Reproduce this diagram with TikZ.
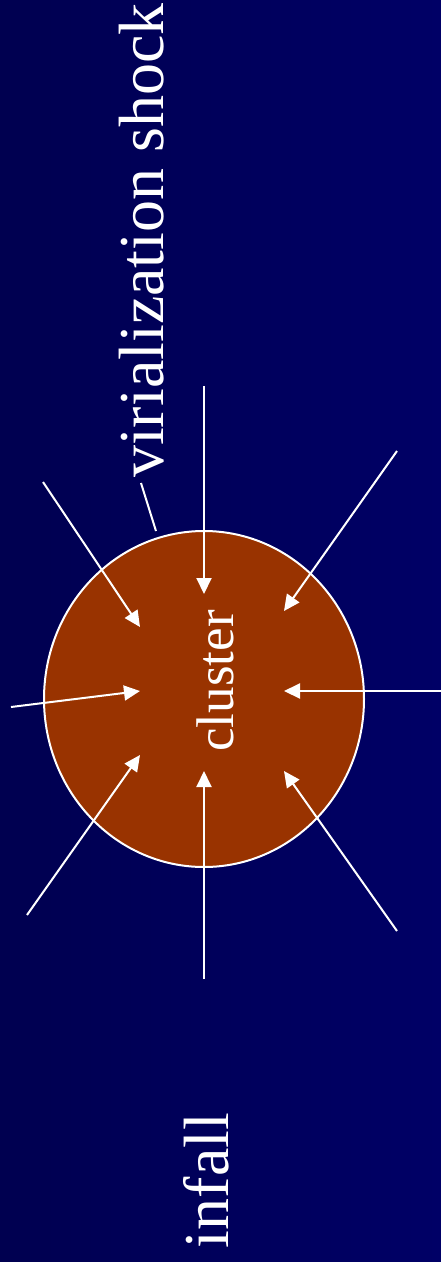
\documentclass[tikz,border=0pt]{standalone}
\usepackage{fontspec}
\setmainfont{Liberation Serif}
\usetikzlibrary{arrows.meta}
\definecolor{bgleft}{RGB}{0,0,80}
\definecolor{bgright}{RGB}{0,0,102}
\definecolor{clusterfill}{RGB}{153,51,0}
\tikzset{
  flow/.style={draw=white, line width=2pt, -{Triangle[length=16pt,width=15pt]}},
  plain/.style={draw=white, line width=2pt},
  label/.style={text=white, inner sep=0pt, rotate=90, anchor=base},
}
\begin{document}
\begin{tikzpicture}[x=1pt,y=-1pt]
\shade[left color=bgleft, right color=bgright] (0,0) rectangle (441,1262);
\useasboundingbox (0,0) rectangle (441,1262);
\fill[clusterfill, draw=white, line width=2pt] (204,699) ellipse [x radius=160, y radius=168];
\node[label, font=\fontsize{64}{64}\selectfont, anchor=base west] (shock) at (163,478) {virialization shock};
\node[label, font=\fontsize{53}{53}\selectfont] (cl) at (233,681) {cluster};
\node[label, font=\fontsize{64}{64}\selectfont] (inf) at (228,1180.5) {infall};
% infall arrows
\coordinate (s1) at (204,386); \coordinate (t1) at (204,594);
\coordinate (s2) at (397,451); \coordinate (t2) at (284,611);
\coordinate (s3) at (441,691); \coordinate (t3) at (284,691);
\coordinate (s4) at (397,931); \coordinate (t4) at (284,771);
\coordinate (s5) at (204,979); \coordinate (t5) at (204,771);
\coordinate (s6) at (27,915);  \coordinate (t6) at (140,755);
\coordinate (s7) at (11,707);  \coordinate (t7) at (140,691);
\coordinate (s8) at (43,482);  \coordinate (t8) at (140,627);
\foreach \i in {1,...,8} { \draw[flow] (s\i) -- (t\i); }
% pointer line
\coordinate (p1) at (141,483); \coordinate (p2) at (156,531);
\draw[plain] (p1) -- (p2);
\end{tikzpicture}
\end{document}
